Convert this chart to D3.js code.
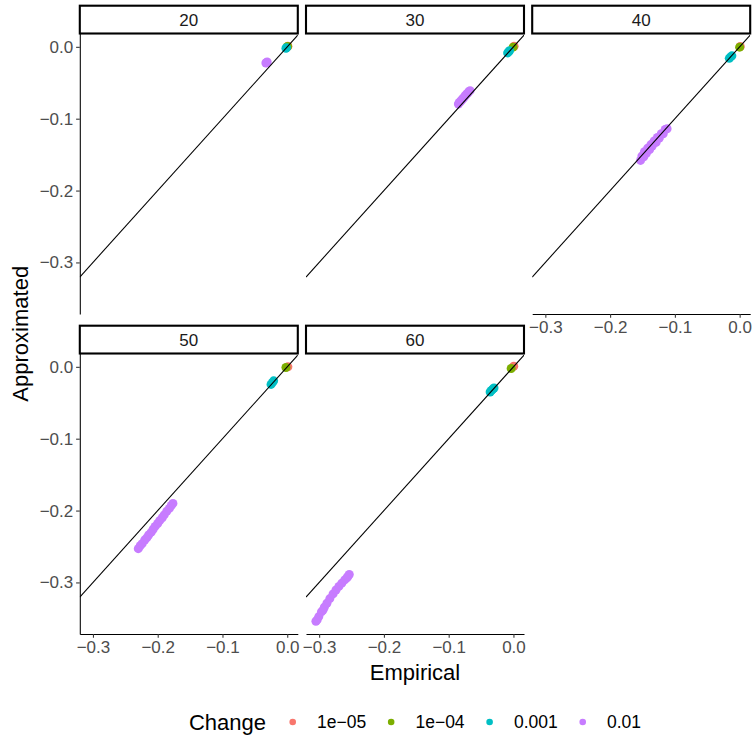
<!DOCTYPE html>
<html><head><meta charset="utf-8">
<script src="https://cdn.jsdelivr.net/npm/d3@7"></script>
<style>
body{margin:0;background:#fff}
svg{display:block}
text{font-family:"Liberation Sans",Arial,Helvetica,sans-serif}
</style>
</head><body>
<svg id="chart" width="754" height="738"></svg>
<script>
// ---------- data ----------
const panels = ["20", "30", "40", "50", "60"];
const changes = ["1e-05", "1e-04", "0.001", "0.01"];
const changeLabels = ["1e\u221205", "1e\u221204", "0.001", "0.01"];
const changeColors = ["#F8766D", "#7CAE00", "#00BFC4", "#C77CFF"];
const xTicks = [-0.3, -0.2, -0.1, 0.0];
const yTicks = [-0.3, -0.2, -0.1, 0.0];
const tickLabels = ["\u22120.3", "\u22120.2", "\u22120.1", "0.0"];

const p20_change = ["1e-05","1e-04","0.001","0.001","0.01","0.01","0.01"];
const p20_empirical = [0.0010, 0.0005, -0.0020, -0.0010, -0.0330, -0.0310, -0.0320];
const p20_approximated = [0.0008, 0.0005, -0.0020, -0.0012, -0.0225, -0.0210, -0.0220];

const p30_change = ["1e-05","1e-04","0.001","0.001","0.001",
  "0.01","0.01","0.01","0.01","0.01","0.01","0.01","0.01","0.01","0.01","0.01","0.01"];
const p30_empirical = [0.0010, -0.0005, -0.0090, -0.0075, -0.0060,
  -0.0850, -0.0835, -0.0820, -0.0805, -0.0790, -0.0775, -0.0760, -0.0745, -0.0730, -0.0710, -0.0690, -0.0670];
const p30_approximated = [0.0008, -0.0005, -0.0085, -0.0070, -0.0055,
  -0.0795, -0.0775, -0.0765, -0.0745, -0.0730, -0.0715, -0.0700, -0.0680, -0.0665, -0.0650, -0.0625, -0.0610];

const p40_change = ["1e-05","1e-04","0.001","0.001","0.001",
  "0.01","0.01","0.01","0.01","0.01","0.01","0.01","0.01","0.01","0.01","0.01","0.01","0.01","0.01","0.01","0.01","0.01"];
const p40_empirical = [0.0010, 0.0000, -0.0160, -0.0140, -0.0120,
  -0.153, -0.151, -0.148, -0.147, -0.144, -0.142, -0.139, -0.137, -0.135, -0.132, -0.129, -0.127, -0.124, -0.121, -0.118, -0.115, -0.112];
const p40_approximated = [0.0005, -0.0005, -0.0160, -0.0140, -0.0125,
  -0.158, -0.152, -0.153, -0.146, -0.148, -0.141, -0.143, -0.136, -0.138, -0.131, -0.133, -0.126, -0.127, -0.121, -0.121, -0.115, -0.114];

const p50_change = ["1e-05","1e-04","0.001","0.001","0.001",
  "0.01","0.01","0.01","0.01","0.01","0.01","0.01","0.01","0.01","0.01","0.01","0.01","0.01","0.01","0.01","0.01","0.01"];
const p50_empirical = [0.0010, -0.0020, -0.0250, -0.0230, -0.0210,
  -0.230, -0.227, -0.224, -0.220, -0.217, -0.214, -0.210, -0.207, -0.204, -0.200, -0.197, -0.193, -0.190, -0.186, -0.182, -0.179, -0.1765];
const p50_approximated = [0.0000, -0.0010, -0.0245, -0.0220, -0.0195,
  -0.253, -0.249, -0.246, -0.241, -0.238, -0.234, -0.230, -0.226, -0.222, -0.218, -0.214, -0.210, -0.206, -0.201, -0.197, -0.193, -0.190];

const p60_change = ["1e-05","1e-04","0.001","0.001","0.001","0.001",
  "0.01","0.01","0.01","0.01","0.01","0.01","0.01","0.01","0.01","0.01","0.01","0.01","0.01","0.01","0.01","0.01"];
const p60_empirical = [0.0005, -0.0035, -0.0360, -0.0340, -0.0320, -0.0300,
  -0.3050, -0.3030, -0.3005, -0.2965, -0.2940, -0.2920, -0.2880, -0.2835, -0.2785, -0.2740, -0.2695, -0.2650, -0.2605, -0.2570, -0.2555, -0.2535];
const p60_approximated = [0.0008, -0.0023, -0.0350, -0.0330, -0.0310, -0.0295,
  -0.3540, -0.3520, -0.3475, -0.3410, -0.3385, -0.3345, -0.3290, -0.3225, -0.3160, -0.3105, -0.3055, -0.3010, -0.2965, -0.2935, -0.2915, -0.2890];

const panelData = {
  "20": [p20_change, p20_empirical, p20_approximated],
  "30": [p30_change, p30_empirical, p30_approximated],
  "40": [p40_change, p40_empirical, p40_approximated],
  "50": [p50_change, p50_empirical, p50_approximated],
  "60": [p60_change, p60_empirical, p60_approximated]
};

// ---------- layout ----------
const svg = d3.select("#chart");
const FONT_TICK = 17, FONT_LEGEND = 17.5, FONT_TITLE = 22;
const panelW = 218, panelH = 280.5;
const col0 = 79.8, colStep = 226.2;
const row0 = 33.5, rowStep = 320;
const stripH = 27.8;
const ncol = 3;

const rows = [];
panels.forEach(p => {
  const [c, e, a] = panelData[p];
  c.forEach((ch, i) => rows.push({panel: p, change: ch, x: e[i], y: a[i]}));
});

function expand(ext) { const d = (ext[1] - ext[0]) * 0.05; return [ext[0] - d, ext[1] + d]; }
const xDom = expand(d3.extent(rows, d => d.x));
const yDom = expand(d3.extent(rows, d => d.y));
const color = d3.scaleOrdinal().domain(changes).range(changeColors);
const fmt = d3.scaleOrdinal().domain(xTicks).range(tickLabels);

const defs = svg.append("defs");

panels.forEach((p, i) => {
  const col = i % ncol, row = Math.floor(i / ncol);
  const left = col0 + col * colStep, top = row0 + row * rowStep;
  const x = d3.scaleLinear().domain(xDom).range([left, left + panelW]);
  const y = d3.scaleLinear().domain(yDom).range([top + panelH, top]);

  defs.append("clipPath").attr("id", "clip" + i)
    .append("rect").attr("x", left).attr("y", top).attr("width", panelW).attr("height", panelH);

  const g = svg.append("g").attr("clip-path", `url(#clip${i})`);
  const pts = rows.filter(d => d.panel === p)
    .sort((a, b) => changes.indexOf(a.change) - changes.indexOf(b.change));
  g.selectAll("circle").data(pts).join("circle")
    .attr("cx", d => x(d.x)).attr("cy", d => y(d.y)).attr("r", 4.5)
    .attr("fill", d => color(d.change));
  g.append("line")
    .attr("x1", x(xDom[0])).attr("y1", y(xDom[0]))
    .attr("x2", x(xDom[1])).attr("y2", y(xDom[1]))
    .attr("stroke", "#000").attr("stroke-width", 1.07);

  svg.append("rect").attr("x", left).attr("y", top - stripH)
    .attr("width", panelW).attr("height", stripH)
    .attr("fill", "#fff").attr("stroke", "#000").attr("stroke-width", 2.1);
  svg.append("text").attr("x", left + panelW / 2).attr("y", top - 7.5)
    .attr("text-anchor", "middle").attr("font-size", FONT_TICK).attr("fill", "#1A1A1A").text(p);

  if (col === 0) {
    const ax = svg.append("g").attr("transform", `translate(${left},0)`)
      .call(d3.axisLeft(y).tickValues(yTicks).tickFormat(d => fmt(d)).tickSize(3.7).tickSizeOuter(0).tickPadding(2.9));
    styleAxis(ax);
  }
  if (i + ncol >= panels.length) {
    const ax = svg.append("g").attr("transform", `translate(0,${top + panelH})`)
      .call(d3.axisBottom(x).tickValues(xTicks).tickFormat(d => fmt(d)).tickSize(3.7).tickSizeOuter(0).tickPadding(2.9));
    styleAxis(ax);
  }
});

function styleAxis(ax) {
  ax.select(".domain").attr("stroke", "#000").attr("stroke-width", 1.07);
  ax.selectAll(".tick line").attr("stroke", "#333333").attr("stroke-width", 1.07);
  ax.selectAll(".tick text").attr("fill", "#4D4D4D").attr("font-size", FONT_TICK)
    .attr("font-family", "'Liberation Sans',Arial,sans-serif");
}

const panelsCenterX = col0 + (2 * colStep + panelW) / 2;
svg.append("text").attr("x", panelsCenterX).attr("y", 680)
  .attr("text-anchor", "middle").attr("font-size", FONT_TITLE).attr("fill", "#000").text("Empirical");
const yMid = (row0 + row0 + rowStep + panelH) / 2;
svg.append("text").attr("transform", `translate(28,${yMid}) rotate(-90)`)
  .attr("text-anchor", "middle").attr("font-size", FONT_TITLE).attr("fill", "#000").text("Approximated");

const lg = svg.append("g");
const ly = 722;
const title = lg.append("text").attr("x", 0).attr("y", ly).attr("dy", "0.35em")
  .attr("font-size", FONT_TITLE).attr("fill", "#000").text("Change");
let cx = title.node().getComputedTextLength() + 26.7;
changes.forEach((c, k) => {
  lg.append("circle").attr("cx", cx).attr("cy", ly).attr("r", 3.3).attr("fill", color(c));
  const t = lg.append("text").attr("x", cx + 24.3).attr("y", ly).attr("dy", "0.35em")
    .attr("font-size", FONT_LEGEND).attr("fill", "#000").text(changeLabels[k]);
  cx = cx + 24.3 + t.node().getComputedTextLength() + 25;
});
const lgW = cx - 25;
lg.attr("transform", `translate(${panelsCenterX - lgW / 2},0)`);
</script>
</body></html>
